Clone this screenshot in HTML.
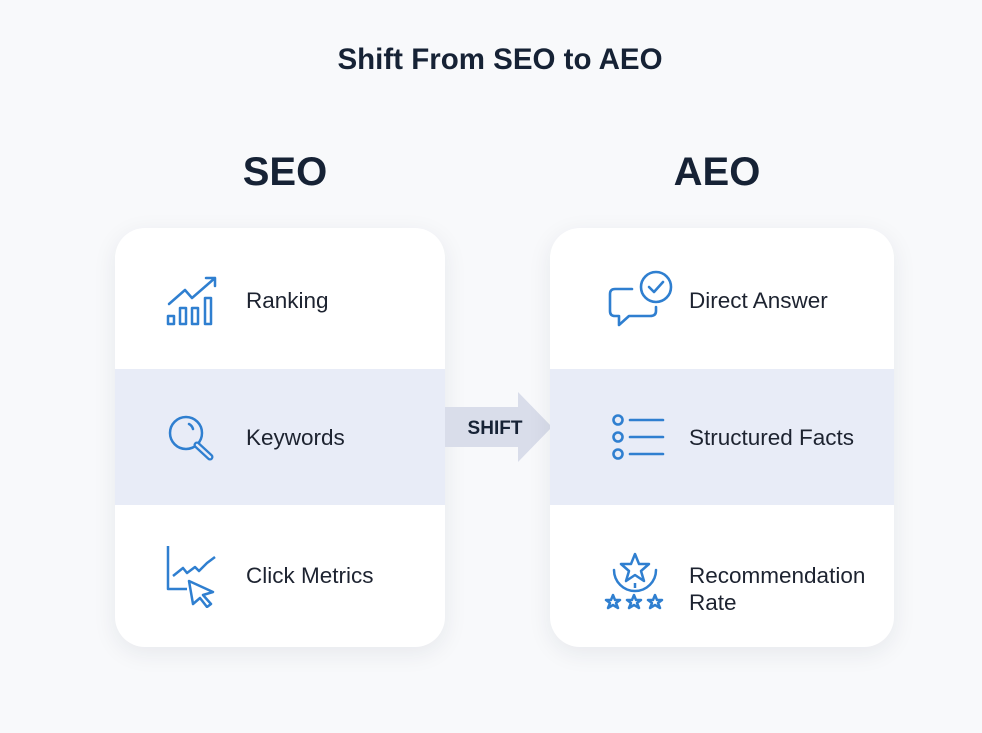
<!DOCTYPE html>
<html><head><style>
body{margin:0;width:982px;height:733px;background:#f8f9fb;font-family:"Liberation Sans",sans-serif;position:relative;overflow:hidden;color:#1a2333}
.t{position:absolute;left:9px;width:982px;text-align:center;top:43px;font-size:29.5px;font-weight:bold;color:#162235}
.h{position:absolute;font-size:40px;font-weight:bold;color:#162235;text-align:center;top:150px}
.card{position:absolute;top:228px;height:419px;background:#fff;border-radius:30px;box-shadow:0 6px 24px rgba(30,40,70,.08);overflow:hidden}
.band{position:absolute;left:0;right:0;top:141px;height:136px;background:#e8ecf7}
.l{position:absolute;font-size:22.5px;color:#1d2330;line-height:27px}
svg.i{position:absolute}
</style></head><body>
<div class="t">Shift From SEO to AEO</div>
<div class="h" style="left:180px;width:210px">SEO</div>
<div class="h" style="left:612px;width:210px">AEO</div>

<div class="card" style="left:115px;width:330px"><div class="band"></div>
<div class="l" style="left:131px;top:59px">Ranking</div>
<div class="l" style="left:131px;top:196px">Keywords</div>
<div class="l" style="left:131px;top:334px">Click Metrics</div>
<svg class="i" style="left:50px;top:45px" width="60" height="60" viewBox="0 0 60 60" fill="none" stroke="#2f7fd0" stroke-width="2.5" stroke-linejoin="round" stroke-linecap="round">
<rect x="3" y="43" width="6" height="8"/><rect x="15" y="35" width="6" height="16"/><rect x="27" y="35" width="6" height="16"/><rect x="40" y="25" width="6" height="26"/>
<path d="M4 31 L20 17 L27 25 L50 5 M41 5 H50 V13"/></svg>
<svg class="i" style="left:52px;top:187px" width="60" height="50" viewBox="0 0 60 50" fill="none" stroke="#2f7fd0" stroke-width="2.5" stroke-linecap="round">
<circle cx="19" cy="18" r="16"/><path d="M22 9 a8 8 0 0 1 4 5"/><path d="M30 30 L43 42" stroke-width="7"/><path d="M30 30 L43 42" stroke="#e8ecf7" stroke-width="2.5"/></svg>
<svg class="i" style="left:50px;top:315px" width="60" height="65" viewBox="0 0 60 65" fill="none" stroke="#2f7fd0" stroke-width="2.5" stroke-linejoin="round">
<path d="M3 3 V46 H22"/><path d="M8 33 L18 25 L22 30 L30 24 L34 28 L42 20 L50 14"/><path d="M24 38 L48 49 L38 52 L46 61 L42 64 L35 55 L28 61 Z"/></svg>
</div>

<svg style="position:absolute;left:445px;top:390px" width="110" height="74"><path d="M0 17 H73 V2 L107 37 L73 72 V57 H0 Z" fill="#d9ddea"/>
<text x="50" y="44" text-anchor="middle" font-family="Liberation Sans" font-weight="bold" font-size="19" fill="#162235">SHIFT</text></svg>

<div class="card" style="left:550px;width:344px"><div class="band"></div>
<div class="l" style="left:139px;top:59px">Direct Answer</div>
<div class="l" style="left:139px;top:196px">Structured Facts</div>
<div class="l" style="left:139px;top:334px">Recommendation<br>Rate</div>
<svg class="i" style="left:57px;top:40px" width="70" height="65" viewBox="0 0 70 65" fill="none" stroke="#2f7fd0" stroke-width="2.6" stroke-linejoin="round" stroke-linecap="round">
<path d="M25 21 H8 Q3 21 3 26 V43 Q3 48 8 48 H12 V57 L22 48 H43 Q49 48 49 43 V39"/><circle cx="49" cy="19" r="15"/><path d="M42 19 L47 24 L56 14"/></svg>
<svg class="i" style="left:58px;top:183px" width="60" height="50" viewBox="0 0 60 50" fill="none" stroke="#2f7fd0" stroke-width="2.6" stroke-linecap="round">
<circle cx="10" cy="9" r="4.5"/><circle cx="10" cy="26" r="4.5"/><circle cx="10" cy="43" r="4.5"/><path d="M22 9 H55 M22 26 H55 M22 43 H55"/></svg>
<svg class="i" style="left:52px;top:320px" width="66" height="66" viewBox="0 0 66 66" fill="none" stroke="#2f7fd0" stroke-width="2.5" stroke-linejoin="round">
<path d="M33 6 L37 16 L47 16 L39 23 L42 33 L33 27 L24 33 L27 23 L19 16 L29 16 Z"/><path d="M12 22 A19 19 0 0 0 54 22" stroke-linecap="round"/><path d="M33 40 V35"/>
<path d="M11 47 L13 52 L18 52 L14 55 L16 60 L11 57 L6 60 L8 55 L4 52 L9 52 Z"/><path d="M32 47 L34 52 L39 52 L35 55 L37 60 L32 57 L27 60 L29 55 L25 52 L30 52 Z"/><path d="M53 47 L55 52 L60 52 L56 55 L58 60 L53 57 L48 60 L50 55 L46 52 L51 52 Z"/></svg>
</div>
</body></html>
